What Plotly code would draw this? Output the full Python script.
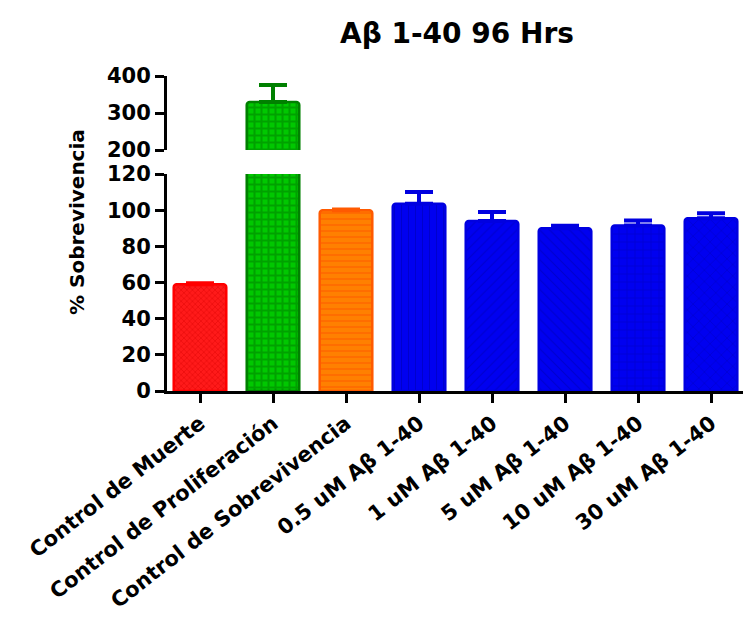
import plotly.graph_objects as go

# Cell survival after 96 h exposure to Aβ 1-40
categories = [
    "Control de Muerte",
    "Control de Proliferación",
    "Control de Sobrevivencia",
    "0.5 uM Aβ 1-40",
    "1 uM Aβ 1-40",
    "5 uM Aβ 1-40",
    "10 uM Aβ 1-40",
    "30 uM Aβ 1-40",
]
survival = [59, 330, 100, 103.5, 94, 90, 91.5, 95.5]
sd_upper = [0.6, 46, 0.4, 6.5, 5, 1.4, 2.8, 2.8]

fill_colors = ["#ff1a1a", "#00c800", "#ff8000", "#0000f0", "#0000f0", "#0000f0", "#0000f0", "#0000f0"]
pattern_colors = ["#d80000", "#007a00", "#ff5500", "#0000a8", "#0000a8", "#0000a8", "#0000a8", "#0000a8"]
edge_colors = ["#ff0000", "#008000", "#ff5a00", "#0000e0", "#0000e0", "#0000e0", "#0000e0", "#0000e0"]
shapes = ["x", "+", "-", "|", "/", "\\", "+", "x"]
pattern_sizes = [4, 7, 6, 7, 7, 7, 8, 8]
solidities = [0.35, 0.5, 0.3, 0.15, 0.15, 0.15, 0.15, 0.15]

FONT = "DejaVu Sans"

fig = go.Figure()

for xa, ya in (("x", "y"), ("x2", "y2")):
    for i, cat in enumerate(categories):
        fig.add_trace(go.Bar(
            x=[cat],
            y=[survival[i]],
            xaxis=xa,
            yaxis=ya,
            width=0.72,
            marker=dict(
                color=fill_colors[i],
                line=dict(color=edge_colors[i], width=2.5),
                pattern=dict(
                    shape=shapes[i],
                    fgcolor=pattern_colors[i],
                    bgcolor=fill_colors[i],
                    size=pattern_sizes[i],
                    solidity=solidities[i],
                    fillmode="overlay",
                ),
            ),
            error_y=dict(
                type="data",
                symmetric=False,
                array=[sd_upper[i]],
                arrayminus=[0],
                color=edge_colors[i],
                thickness=4,
                width=14,
            ),
            showlegend=False,
        ))

axis_line = dict(showline=True, linecolor="black", linewidth=3,
                 ticks="outside", ticklen=9, tickwidth=3, tickcolor="black",
                 showgrid=False, zeroline=False)

tick_font = dict(family=FONT, size=21, color="black", weight="bold")

fig.update_layout(
    width=743,
    height=617,
    margin=dict(l=167, r=0, t=76, b=226),
    paper_bgcolor="white",
    plot_bgcolor="white",
    barcornerradius=3,
    font=dict(family=FONT, color="black"),
    title=dict(
        text="<b>Aβ 1-40 96 Hrs</b>",
        x=457 / 743, xanchor="center", xref="container",
        y=1 - 33 / 617, yanchor="middle", yref="container",
        font=dict(family=FONT, size=28, color="black"),
    ),
    xaxis=dict(
        **axis_line,
        domain=[0, 1],
        anchor="y",
        range=[-0.452, 7.438],
        categoryorder="array",
        categoryarray=categories,
        tickangle=-38,
        tickfont=tick_font,
    ),
    xaxis2=dict(
        domain=[0, 1],
        anchor="y2",
        matches="x",
        visible=False,
    ),
    yaxis=dict(
        **axis_line,
        domain=[0, 217 / 315],
        anchor="x",
        range=[0, 120],
        tickvals=[0, 20, 40, 60, 80, 100, 120],
        tickfont=tick_font,
    ),
    yaxis2=dict(
        **axis_line,
        domain=[241 / 315, 1],
        anchor="x2",
        range=[200, 400],
        tickvals=[200, 300, 400],
        tickfont=tick_font,
    ),
    annotations=[dict(
        text="<b>% Sobrevivencia</b>",
        textangle=-90,
        xref="paper", yref="paper",
        x=(77 - 167) / 576, y=(391 - 222) / 315,
        xanchor="center", yanchor="middle",
        showarrow=False,
        font=dict(family=FONT, size=20, color="black"),
    )],
)

fig.write_html("out.html")
